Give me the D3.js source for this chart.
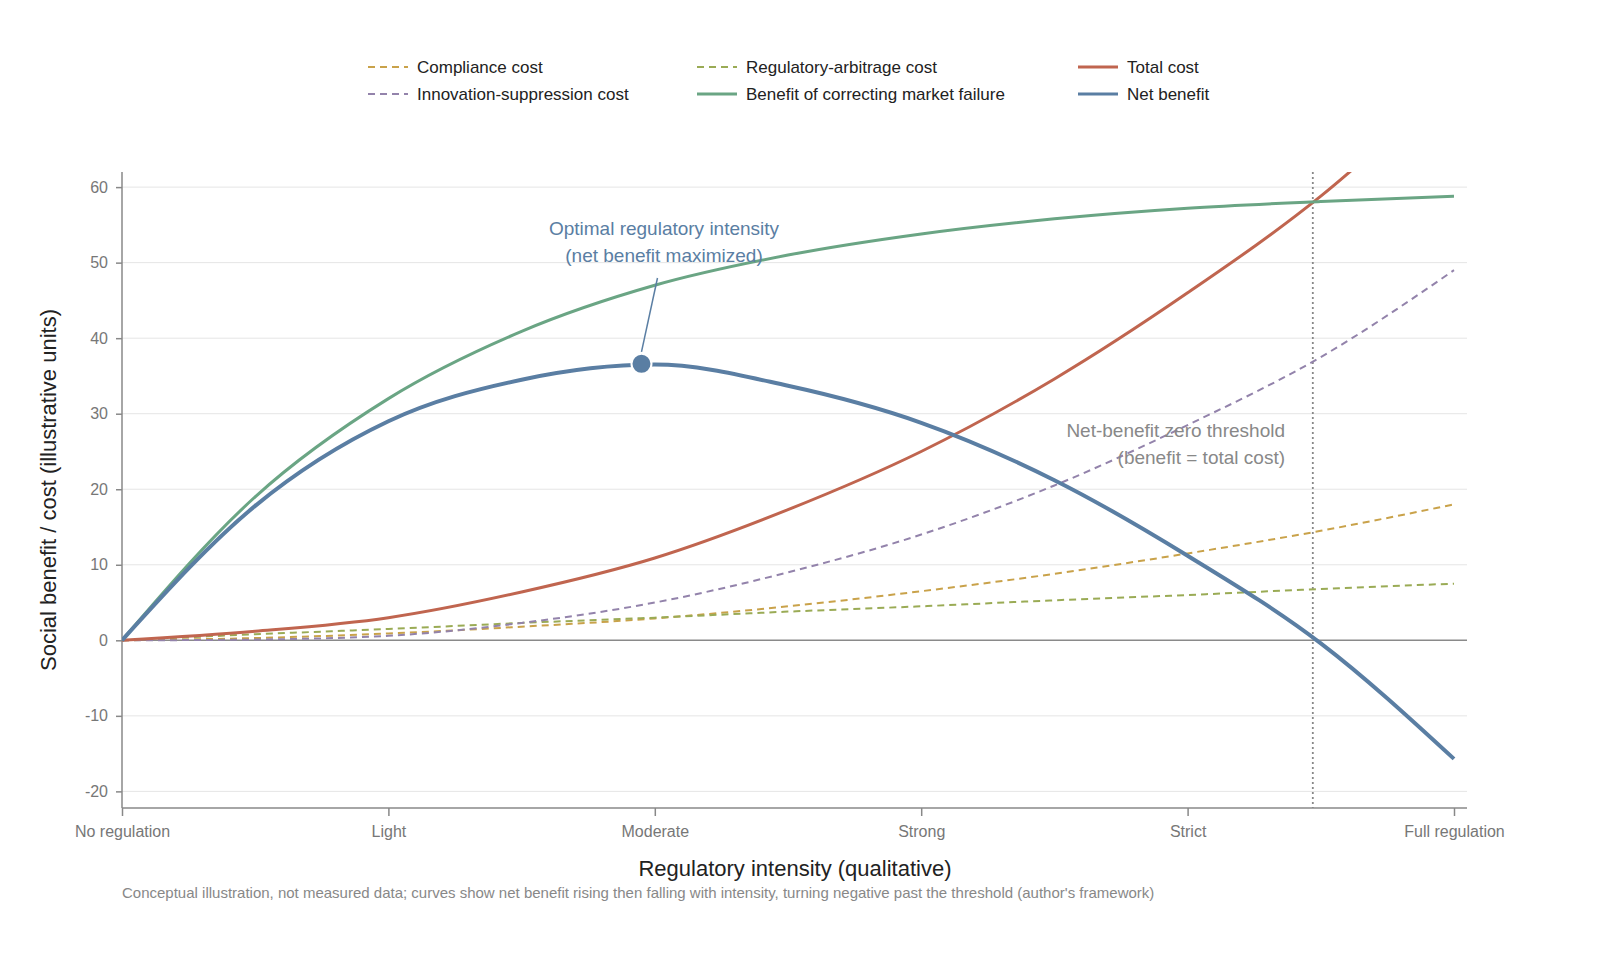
<!DOCTYPE html>
<html><head><meta charset="utf-8">
<script src="https://cdn.jsdelivr.net/npm/d3@7"></script>
<style>html,body{margin:0;overflow:hidden;background:#fff;font-family:"Liberation Sans",Arial,sans-serif}svg{display:block}</style>
</head><body>
<svg id="chart" width="1600" height="978"></svg>
<script>
// intensity steps (0 = No regulation ... 5 = Full regulation)
var xs = [0, 0.5, 1, 1.5, 2, 2.5, 3, 3.5, 4, 4.5, 5];
var tickLabels = ["No regulation", "Light", "Moderate", "Strong", "Strict", "Full regulation"];
var yTicks = [-20, -10, 0, 10, 20, 30, 40, 50, 60];

var compliance = [0, 0.3, 0.9, 1.8, 2.9, 4.5, 6.5, 8.8, 11.5, 14.5, 18];
var arbitrage = [0, 0.8, 1.5, 2.3, 3.0, 3.8, 4.5, 5.3, 6.0, 6.8, 7.5];
var innovation = [0, 0.1, 0.6, 2.3, 5, 9, 14, 20.5, 28.5, 37.5, 49];
var totalCost = [0, 1.2, 3.0, 6.4, 10.9, 17.3, 25.0, 34.6, 46.0, 58.8, 74.5];
var benefit = [0, 19, 32, 40.9, 47, 51.0, 53.8, 55.8, 57.2, 58.1, 58.8];
var netBenefit = [0, 17.8, 29, 34.5, 36.5, 33.7, 28.8, 21.2, 11.2, -0.4, -15.7];

var optimum = {x: 1.95, y: 36.6};
var threshold = 4.47;

var svg = d3.select("#chart");
var x = d3.scaleLinear().domain([0, 5]).range([122, 1454]);
var y = d3.scaleLinear().domain([-22.2, 62]).range([808, 172]);
var pLeft = 122, pRight = 1467, pTop = 172, pBottom = 808;

svg.append("defs").append("clipPath").attr("id", "clip")
  .append("rect").attr("x", pLeft).attr("y", pTop).attr("width", pRight - pLeft).attr("height", pBottom - pTop);

// grid
svg.selectAll(".grid").data(yTicks).enter().append("line")
  .attr("x1", pLeft).attr("x2", pRight)
  .attr("y1", d => y(d)).attr("y2", d => y(d))
  .attr("stroke", d => d === 0 ? "#8a8a8a" : "#e5e5e5").attr("stroke-width", d => d === 0 ? 1.5 : 1);

// axes
var yAxis = svg.append("g").attr("transform", "translate(" + pLeft + ",0)")
  .call(d3.axisLeft(y).tickValues(yTicks).tickFormat(d => String(d)).tickSize(6).tickPadding(8));
yAxis.select(".domain").attr("d", "M0," + pTop + "V" + pBottom);
var xAxis = svg.append("g").attr("transform", "translate(0," + pBottom + ")")
  .call(d3.axisBottom(x).tickValues(d3.range(6)).tickFormat(i => tickLabels[i]).tickSize(8).tickPadding(10));
xAxis.select(".domain").attr("d", "M" + pLeft + ",0H" + pRight);
svg.selectAll(".domain, .tick line").attr("stroke", "#888").attr("stroke-width", 1.5);
svg.selectAll(".tick text").attr("fill", "#777").style("font-size", "16px").style("font-family", "Liberation Sans, Arial, sans-serif");

// threshold
svg.append("line").attr("x1", x(threshold)).attr("x2", x(threshold)).attr("y1", pTop).attr("y2", pBottom)
  .attr("stroke", "#888").attr("stroke-width", 1.8).attr("stroke-dasharray", "2,3");

var series = [
  {name: "Compliance cost", v: compliance, c: "#c9a24a", dash: "7,5", w: 2},
  {name: "Regulatory-arbitrage cost", v: arbitrage, c: "#9aab55", dash: "7,5", w: 2},
  {name: "Innovation-suppression cost", v: innovation, c: "#9383ab", dash: "7,5", w: 2},
  {name: "Total cost", v: totalCost, c: "#c0654f", dash: null, w: 3},
  {name: "Benefit of correcting market failure", v: benefit, c: "#6aa584", dash: null, w: 3},
  {name: "Net benefit", v: netBenefit, c: "#5a7ea3", dash: null, w: 4}
];
var line = d3.line().x((d, i) => x(xs[i])).y(d => y(d)).curve(d3.curveMonotoneX);
var g = svg.append("g").attr("clip-path", "url(#clip)");
series.forEach(function(s) {
  g.append("path").attr("d", line(s.v)).attr("fill", "none").attr("stroke", s.c)
    .attr("stroke-width", s.w).attr("stroke-dasharray", s.dash);
});

// optimum annotation
svg.append("line").attr("x1", x(optimum.x)).attr("y1", y(optimum.y) - 12).attr("x2", x(optimum.x) + 16).attr("y2", 278)
  .attr("stroke", "#5a7ea3").attr("stroke-width", 1.5);
svg.append("circle").attr("cx", x(optimum.x)).attr("cy", y(optimum.y)).attr("r", 10)
  .attr("fill", "#5a7ea3").attr("stroke", "#fff").attr("stroke-width", 2);
svg.append("text").attr("x", 664).attr("y", 235).attr("text-anchor", "middle").attr("fill", "#5a7ea3").style("font-size", "19px")
  .text("Optimal regulatory intensity");
svg.append("text").attr("x", 664).attr("y", 262).attr("text-anchor", "middle").attr("fill", "#5a7ea3").style("font-size", "19px")
  .text("(net benefit maximized)");
svg.append("text").attr("x", 1285).attr("y", 437).attr("text-anchor", "end").attr("fill", "#888").style("font-size", "19px")
  .text("Net-benefit zero threshold");
svg.append("text").attr("x", 1285).attr("y", 464).attr("text-anchor", "end").attr("fill", "#888").style("font-size", "19px")
  .text("(benefit = total cost)");

// legend
var legendPos = [[368, 67], [368, 94], [697, 67], [1078, 67], [697, 94], [1078, 94]];
var legendOrder = [0, 2, 1, 3, 4, 5];
legendOrder.forEach(function(si, k) {
  var s = series[si], p = legendPos[k];
  svg.append("line").attr("x1", p[0]).attr("x2", p[0] + 40).attr("y1", p[1]).attr("y2", p[1])
    .attr("stroke", s.c).attr("stroke-width", Math.min(s.w, 3)).attr("stroke-dasharray", s.dash);
  svg.append("text").attr("x", p[0] + 49).attr("y", p[1] + 6).attr("fill", "#222").style("font-size", "17px").text(s.name);
});

// titles
svg.append("text").attr("x", 795).attr("y", 876).attr("text-anchor", "middle").attr("fill", "#222").style("font-size", "22px")
  .text("Regulatory intensity (qualitative)");
svg.append("text").attr("transform", "translate(56,490) rotate(-90)").attr("text-anchor", "middle").attr("fill", "#222").style("font-size", "22px")
  .text("Social benefit / cost (illustrative units)");
svg.append("text").attr("x", 122).attr("y", 898).attr("fill", "#888").style("font-size", "15px")
  .text("Conceptual illustration, not measured data; curves show net benefit rising then falling with intensity, turning negative past the threshold (author's framework)");
</script>
</body></html>
